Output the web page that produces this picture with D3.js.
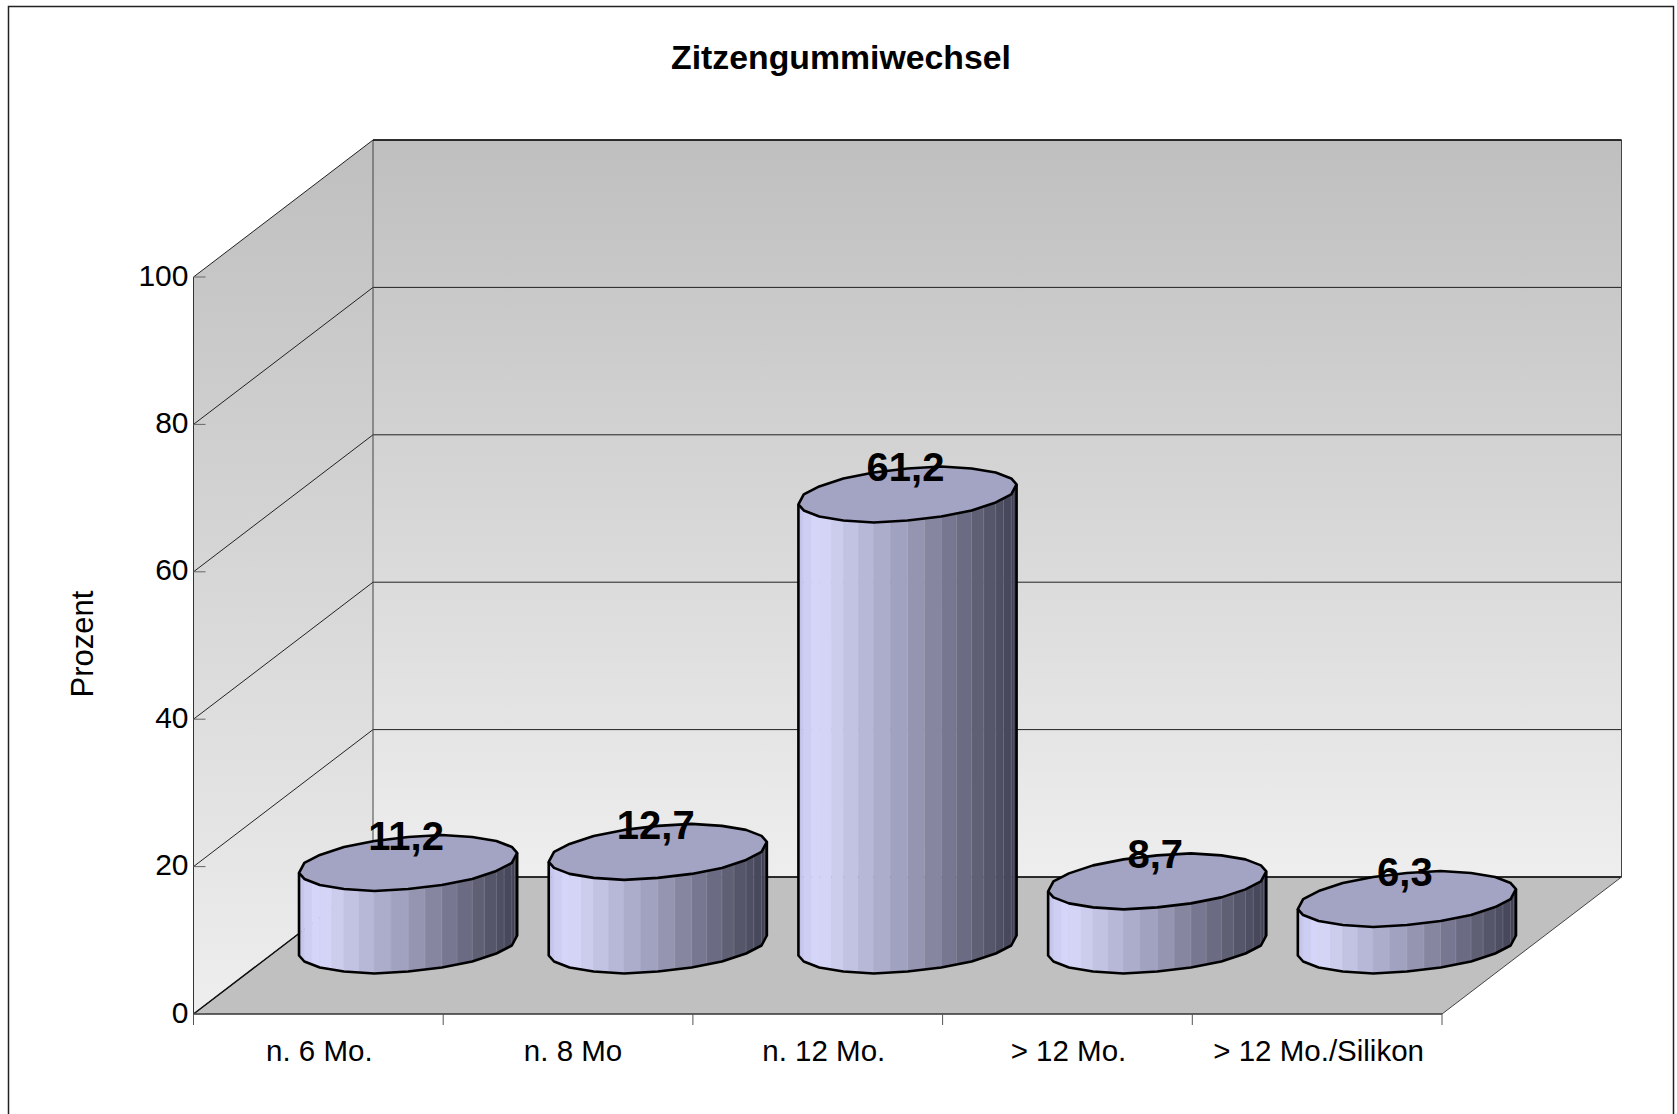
<!DOCTYPE html>
<html>
<head>
<meta charset="utf-8">
<script src="https://cdn.jsdelivr.net/npm/d3@7"></script>
<style>
html, body { margin: 0; padding: 0; background: #fff; overflow: hidden; }
text { font-family: "Liberation Sans", Arial, sans-serif; fill: #000; }
</style>
</head>
<body>
<div id="chartContainer"></div>
<script>
// data
const categories = ["n. 6 Mo.", "n. 8 Mo", "n. 12 Mo.", "> 12 Mo.", "> 12 Mo./Silikon"];
const percentValues = [11.2, 12.7, 61.2, 8.7, 6.3];
const valueLabels = ["11,2", "12,7", "61,2", "8,7", "6,3"];
const yTicks = [0, 20, 40, 60, 80, 100];
const chartTitle = "Zitzengummiwechsel";
const yTitle = "Prozent";

function createChart() {
    const width = 1677, height = 1114;

    // front plane of the 3d box, depth vector goes to the back wall
    const left = 193.5, right = 1442, bottom = 1014, top = 277;
    const depthX = 179.5, depthY = -137;

    const svg = d3.select("#chartContainer").append("svg")
        .attr("width", width)
        .attr("height", height)
        .style("display", "block");

    const defs = svg.append("defs");
    const wallGrad = defs.append("linearGradient")
        .attr("id", "wall")
        .attr("x1", 0).attr("x2", 0)
        .attr("y1", 0).attr("y2", 1);
    wallGrad.append("stop").attr("offset", 0).attr("stop-color", "#bfbfbf");
    wallGrad.append("stop").attr("offset", 1).attr("stop-color", "#eeeeee");

    const x = d3.scaleBand().domain(categories).range([left, right]);
    const y = d3.scaleLinear().domain([0, 100]).range([bottom, top]);
    const path = d3.line();

    // outer frame, runs off the bottom of the page
    svg.append("rect")
        .attr("x", 8.5).attr("y", 6.5)
        .attr("width", 1665).attr("height", 1200)
        .attr("fill", "#fff")
        .attr("stroke", "#222")
        .attr("stroke-width", 1.5);

    // back wall + side wall
    svg.append("path")
        .attr("d", path([[left + depthX, y(100) + depthY], [right + depthX, y(100) + depthY], [right + depthX, y(0) + depthY], [left + depthX, y(0) + depthY]]) + "Z")
        .attr("fill", "url(#wall)");
    svg.append("path")
        .attr("d", path([[left, y(100)], [left + depthX, y(100) + depthY], [left + depthX, y(0) + depthY], [left, y(0)]]) + "Z")
        .attr("fill", "url(#wall)");

    // floor
    svg.append("path")
        .attr("d", path([[left, y(0)], [right, y(0)], [right + depthX, y(0) + depthY], [left + depthX, y(0) + depthY]]) + "Z")
        .attr("fill", "#c0c0c0");

    // gridlines along side wall and back wall
    const grid = svg.append("g").attr("fill", "none").attr("stroke", "#222").attr("stroke-width", 1);
    yTicks.forEach(t => {
        grid.append("path").attr("d", path([
            [left, y(t)],
            [left + depthX, y(t) + depthY],
            [right + depthX, y(t) + depthY]
        ]));
    });

    // box edges
    const edges = svg.append("g").attr("fill", "none").attr("stroke", "#111").attr("stroke-width", 1);
    edges.append("path").attr("d", path([[left + depthX, y(100) + depthY], [left + depthX, y(0) + depthY]])).attr("stroke", "#444");
    edges.append("path").attr("d", path([[right + depthX, y(100) + depthY], [right + depthX, y(0) + depthY]])).attr("stroke", "#444");
    edges.append("path").attr("d", path([[left, y(0)], [left + depthX, y(0) + depthY], [right + depthX, y(0) + depthY]])).attr("stroke-width", 1.5);
    edges.append("path").attr("d", path([[left + depthX, y(100) + depthY], [right + depthX, y(100) + depthY]])).attr("stroke-width", 1.5);
    edges.append("path").attr("d", path([[right, y(0)], [right + depthX, y(0) + depthY]])).attr("stroke", "#444");

    // y axis
    edges.append("path").attr("d", path([[left, y(100)], [left, y(0)]])).attr("stroke", "#333");
    edges.append("path").attr("d", path([[left, y(0)], [right, y(0)]])).attr("stroke", "#333").attr("stroke-width", 1.5);
    yTicks.forEach(t => {
        svg.append("line")
            .attr("x1", left).attr("x2", left + 12)
            .attr("y1", y(t)).attr("y2", y(t))
            .attr("stroke", "#666");
        svg.append("text")
            .attr("x", left - 5)
            .attr("y", y(t) + 8.5)
            .attr("text-anchor", "end")
            .style("font-size", "30px")
            .text(t);
    });

    // x ticks + labels
    const tickEdges = categories.map(c => x(c)).concat([right]);
    tickEdges.forEach(tx => {
        svg.append("line")
            .attr("x1", tx).attr("x2", tx)
            .attr("y1", y(0)).attr("y2", y(0) + 11)
            .attr("stroke", "#555");
    });
    const labelNudge = [1, 5, 6, 1, 1.5]; // labels sit a little off the band centre
    categories.forEach((c, i) => {
        svg.append("text")
            .attr("x", x(c) + x.bandwidth() / 2 + labelNudge[i])
            .attr("y", y(0) + 47)
            .attr("text-anchor", "middle")
            .style("font-size", "29.5px")
            .text(c);
    });

    // cylinders: sheared ellipse lying in the floor plane
    const radiusX = x.bandwidth() * 0.4125;
    const radiusDepth = 0.2;
    const outlineSteps = 10;   // coarse segments per half, like the original raster
    const stripsPerStep = 2;
    const snapY = 2;           // rim y is snapped, gives the bumpy outline

    const shade = d3.scaleLinear()
        .domain([0, 0.1, 0.2, 0.3, 0.37, 0.5, 0.63, 0.75, 0.89, 1])
        .range(["#bcbce4", "#cacaf0", "#d8d8fc", "#c8c8e8", "#b8b8d8", "#9c9cba", "#76768f", "#5a5a6e", "#46465a", "#38384a"]);

    const t0 = Math.atan2(radiusDepth * depthX, radiusX); // silhouette angle

    function rim(cx, cy, t) {
        const off = radiusDepth * depthY * Math.sin(t);
        return [
            cx + radiusX * Math.cos(t) + radiusDepth * depthX * Math.sin(t),
            cy + Math.round(off / snapY) * snapY
        ];
    }

    const bars = svg.append("g");
    categories.forEach((c, i) => {
        const v = percentValues[i];
        const cx = x(c) + x.bandwidth() / 2 + depthX / 2;
        const baseY = y(0) + depthY / 2;
        const topY = y(v) + depthY / 2;
        const bar = bars.append("g");

        // front half: t0 (right silhouette) going through the front to the left silhouette
        const frontT = d3.range(outlineSteps + 1).map(k => t0 - k * Math.PI / outlineSteps);
        const backT = d3.range(outlineSteps + 1).map(k => t0 + k * Math.PI / outlineSteps);
        const frontTop = frontT.map(t => rim(cx, topY, t)).reverse();
        const frontBase = frontT.map(t => rim(cx, baseY, t)).reverse();
        const backTop = backT.map(t => rim(cx, topY, t));

        // vertical strips
        const total = outlineSteps * stripsPerStep;
        const lerp = (p, q, w) => [p[0] + (q[0] - p[0]) * w, p[1] + (q[1] - p[1]) * w];
        for (let k = 0; k < outlineSteps; k++) {
            for (let s = 0; s < stripsPerStep; s++) {
                const a = s / stripsPerStep, b = (s + 1) / stripsPerStep;
                const f = (k * stripsPerStep + s + 0.5) / total;
                bar.append("path")
                    .attr("d", path([
                        lerp(frontTop[k], frontTop[k + 1], a),
                        lerp(frontTop[k], frontTop[k + 1], b),
                        lerp(frontBase[k], frontBase[k + 1], b),
                        lerp(frontBase[k], frontBase[k + 1], a)
                    ]) + "Z")
                    .attr("fill", shade(f))
                    .attr("stroke", shade(f))
                    .attr("stroke-width", 0.5);
                // faint light seam between the darker strips
                if (f > 0.5) {
                    bar.append("path")
                        .attr("d", path([lerp(frontTop[k], frontTop[k + 1], a), lerp(frontBase[k], frontBase[k + 1], a)]))
                        .attr("stroke", "#fff")
                        .attr("stroke-opacity", 0.14)
                        .attr("stroke-width", 1);
                }
            }
        }

        // top face
        bar.append("path")
            .attr("d", path(frontTop.concat(backTop.slice(1, -1))) + "Z")
            .attr("fill", "#a3a3c4")
            .attr("stroke", "#000")
            .attr("stroke-width", 2.6)
            .attr("stroke-linejoin", "round");

        // body outline
        bar.append("path")
            .attr("d", path([frontTop[0]].concat(frontBase, [frontTop[outlineSteps]])))
            .attr("fill", "none")
            .attr("stroke", "#000")
            .attr("stroke-width", 2.6)
            .attr("stroke-linejoin", "round");

        // value label
        bar.append("text")
            .attr("x", cx - 2)
            .attr("y", topY - 13)
            .attr("text-anchor", "middle")
            .style("font-size", "40px")
            .style("font-weight", "bold")
            .text(valueLabels[i]);
    });

    // titles
    svg.append("text")
        .attr("x", 841).attr("y", 69)
        .attr("text-anchor", "middle")
        .style("font-size", "33.8px")
        .style("font-weight", "bold")
        .text(chartTitle);

    svg.append("text")
        .attr("transform", "translate(93,644) rotate(-90)")
        .attr("text-anchor", "middle")
        .style("font-size", "31px")
        .text(yTitle);
}
createChart();
</script>
</body>
</html>
